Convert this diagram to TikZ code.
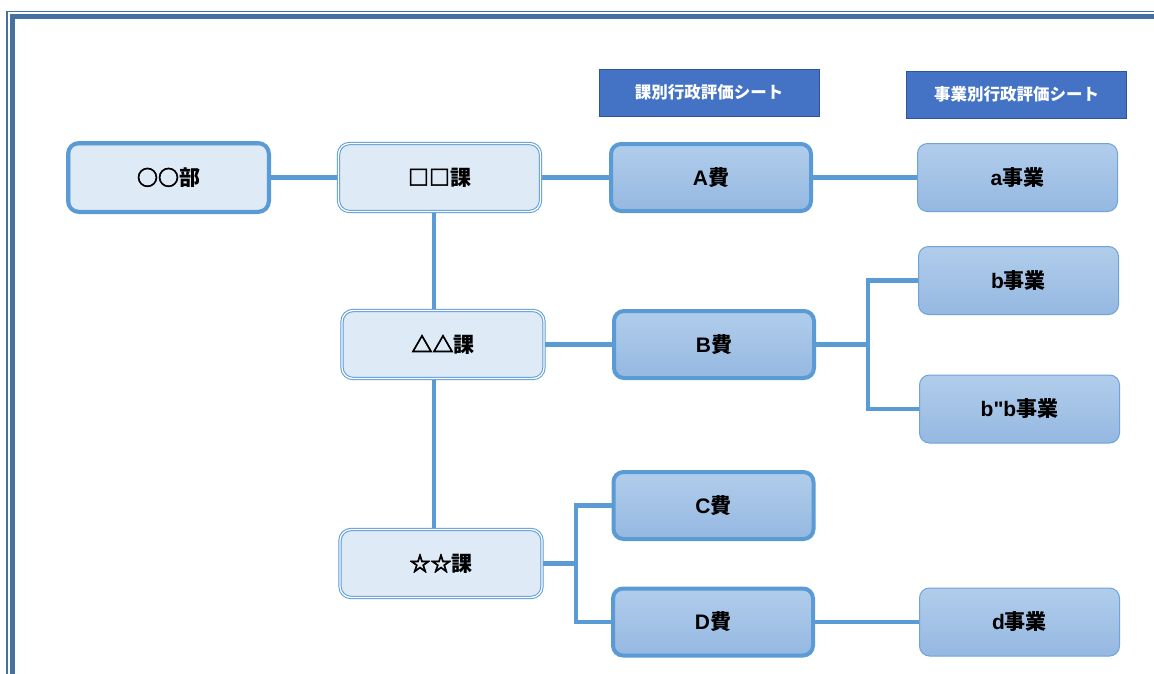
\documentclass[tikz,border=0pt]{standalone}
\usepackage{fontspec}
\newfontfamily\jp{Noto Sans CJK JP}
\newfontfamily\la{Liberation Sans}
\newfontfamily\sym[FakeBold=3]{Noto Sans CJK JP}
\usetikzlibrary{backgrounds}
\definecolor{lb}{HTML}{5B9BD5}
\definecolor{lf}{HTML}{DEEAF6}
\definecolor{g1}{HTML}{B1CDEB}
\definecolor{g2}{HTML}{95B8E1}
\definecolor{jb}{HTML}{6FA3D9}
\definecolor{hf}{HTML}{4472C4}
\definecolor{hb}{HTML}{2F5597}
\definecolor{fr}{HTML}{44719F}
\newcommand{\lat}[1]{{\la\bfseries #1}}
\newcommand{\sy}[1]{{\sym #1}}
\tikzset{
  txt/.style={font=\jp\bfseries\fontsize{21}{21}\selectfont, text=black, inner sep=0pt},
  bu/.style={txt, draw=lb, line width=4pt, fill=lf, rounded corners=11pt, minimum width=201pt, minimum height=69pt},
  ka/.style={txt, draw=lb, double=white, double distance=1.3pt, line width=1pt, fill=lf, rounded corners=11pt, minimum width=202pt, minimum height=68pt},
  hi/.style={txt, draw=lb, line width=4pt, top color=g1, bottom color=g2, rounded corners=10pt, minimum width=200pt, minimum height=67pt},
  ji/.style={txt, draw=jb, line width=1pt, top color=g1, bottom color=g2, rounded corners=10pt, minimum width=200pt, minimum height=68pt},
  hd/.style={draw=hb, line width=0.8pt, fill=hf, text=white, inner sep=0pt, minimum width=220pt, minimum height=47pt, font=\jp\bfseries\fontsize{16.5}{16.5}\selectfont},
  cn/.style={draw=lb, line width=4.6pt},
  frline/.style={draw=fr}
}
\begin{document}
\begin{tikzpicture}[x=1pt,y=-1pt]
\useasboundingbox (0,0) rectangle (1154,673);
% headers
\node[hd] (h1) at (709,92.5) {課別行政評価シート};
\node[hd] (h2) at (1016.5,94.5) {事業別行政評価シート};
% nodes
\node[bu] (bu) at (168.5,177.5) {\sy{○○}部};
\node[ka] (k1) at (439.5,177.5) {\sy{□□}課};
\node[ka] (k2) at (443,344.5) {\sy{△△}課};
\node[ka] (k3) at (441,563.5) {\sy{☆☆}課};
\node[hi] (A) at (711,177.5) {\lat{A}費};
\node[hi] (B) at (714,344.5) {\lat{B}費};
\node[hi] (C) at (713.5,505.5) {\lat{C}費};
\node[hi] (D) at (713,622) {\lat{D}費};
\node[ji] (a) at (1017.5,177.5) {\lat{a}事業};
\node[ji] (b1) at (1018.5,280.5) {\lat{b}事業};
\node[ji] (b2) at (1019.5,409) {\lat{b"b}事業};
\node[ji] (d) at (1019.5,622) {\lat{d}事業};
% inner line of the department box
\draw[lb, line width=0.9pt, rounded corners=8pt] ([shift={(3.8,3.8)}]bu.north west) rectangle ([shift={(-3.8,-3.8)}]bu.south east);
% connectors
\coordinate (vx) at (434,0);
\coordinate (bx) at (868,0);
\coordinate (sx) at (576,0);
\begin{scope}[on background layer]
\fill[white] (0,0) rectangle (1154,673);
\draw[frline, line width=1.3pt] (7,700) -- (7,11.5) -- (1170,11.5);
\draw[frline, line width=5pt] (12.5,700) -- (12.5,16.5) -- (1170,16.5);
\draw[cn] (bu.east) -- (k1.west);
\draw[cn] (k1.east) -- (A.west);
\draw[cn] (A.east) -- (a.west);
\draw[cn] (vx |- k1.south) -- (vx |- k2.north);
\draw[cn] (vx |- k2.south) -- (vx |- k3.north);
\draw[cn] (k2.east) -- (B.west);
\draw[cn] (B.east) -- (B.east -| bx);
\draw[cn] (b1.west) -| (bx |- b2.west) -- (b2.west);
\draw[cn] (k3.east) -- (k3.east -| sx);
\draw[cn] (C.west) -| (sx |- D.west) -- (D.west);
\draw[cn] (D.east) -- (d.west);
\end{scope}
\end{tikzpicture}
\end{document}
